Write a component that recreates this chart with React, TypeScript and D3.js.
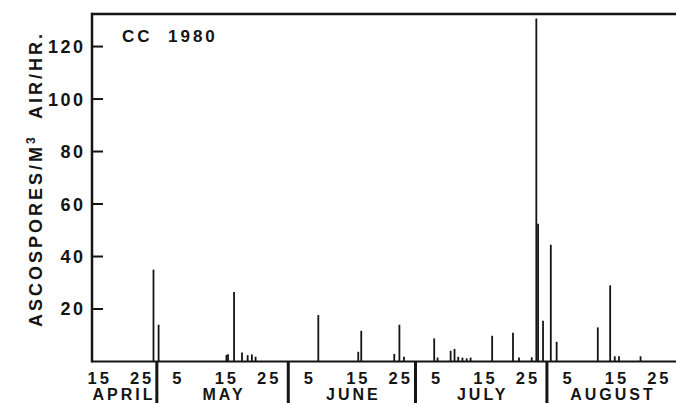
import React, { useRef, useEffect } from 'react';
import { select, scaleUtc, scaleLinear, utcParse } from 'd3';

const width = 676;
const height = 403;

const parseHour = utcParse('%Y-%m-%dT%H');
const parseDay = utcParse('%Y-%m-%d');

// sampling times and ascospore counts (per m3 air per hour)
const sampleTimes = [
    '1980-04-30T05', '1980-05-01T10', '1980-05-17T10', '1980-05-17T19', '1980-05-19T05',
    '1980-05-21T02', '1980-05-22T10', '1980-05-23T10', '1980-05-24T07', '1980-06-08T02',
    '1980-06-17T12', '1980-06-18T05', '1980-06-26T00', '1980-06-27T05', '1980-06-28T07',
    '1980-07-05T10', '1980-07-06T05', '1980-07-09T07', '1980-07-10T05', '1980-07-11T02',
    '1980-07-12T02', '1980-07-13T02', '1980-07-14T00', '1980-07-19T02', '1980-07-24T00',
    '1980-07-25T10', '1980-07-28T10', '1980-07-29T12', '1980-07-29T22', '1980-07-31T02',
    '1980-08-01T22', '1980-08-03T07', '1980-08-13T00', '1980-08-15T22', '1980-08-17T00',
    '1980-08-18T00', '1980-08-23T02'
];
const ascospores = [
    35, 14, 2.5, 2.8, 26.5,
    3.4, 2.4, 2.7, 1.8, 17.7,
    3.7, 11.7, 2.9, 14, 1.8,
    8.8, 1.5, 4.1, 4.8, 1.8,
    1.5, 1.2, 1.5, 9.8, 11,
    1.5, 1.6, 130.7, 52.5, 15.5,
    44.5, 7.5, 13, 29, 2,
    2, 2
];

const yTicks = [20, 40, 60, 80, 100, 120];
const xTickDates = [
    '1980-04-15', '1980-04-25',
    '1980-05-05', '1980-05-15', '1980-05-25',
    '1980-06-05', '1980-06-15', '1980-06-25',
    '1980-07-05', '1980-07-15', '1980-07-25',
    '1980-08-05', '1980-08-15', '1980-08-25'
];
const monthNames = ['APRIL', 'MAY', 'JUNE', 'JULY', 'AUGUST'];
const monthStarts = ['1980-04-01', '1980-05-01', '1980-06-01', '1980-07-01', '1980-08-01', '1980-09-01'];

const left = 92;
const top = 14;
const baseline = 361.5;
const right = 676;

const x = scaleUtc()
    .domain([parseDay('1980-04-14'), parseDay('1980-09-01')])
    .range([84.76, 678.36]);

const y = scaleLinear()
    .domain([0, 132.4])
    .range([baseline, top]);

const ink = '#141414';
const font = '"Liberation Sans", Arial, Helvetica, sans-serif';

export default function App() {

    const svgRef = useRef();

    useEffect(() => {
        const svg = select(svgRef.current);
        svg.selectAll('*').remove();

        svg.append('rect')
            .attr('width', width)
            .attr('height', height)
            .attr('fill', '#fff');

        // frame: top, left axis
        svg.append('line')
            .attr('x1', left).attr('x2', right)
            .attr('y1', top).attr('y2', top)
            .attr('stroke', ink).attr('stroke-width', 2.5);
        svg.append('line')
            .attr('x1', left).attr('x2', left)
            .attr('y1', top - 1.2).attr('y2', baseline + 1)
            .attr('stroke', ink).attr('stroke-width', 2.5);

        // bars
        svg.selectAll('.bar')
            .data(sampleTimes.map((t, i) => ({ t: parseHour(t), v: ascospores[i] })))
            .enter()
            .append('line')
            .attr('class', 'bar')
            .attr('x1', d => x(d.t))
            .attr('x2', d => x(d.t))
            .attr('y1', baseline)
            .attr('y2', d => y(d.v))
            .attr('stroke', ink)
            .attr('stroke-width', 1.8);

        svg.append('line')
            .attr('x1', left).attr('x2', right)
            .attr('y1', baseline).attr('y2', baseline)
            .attr('stroke', ink).attr('stroke-width', 2.2);

        // y ticks
        const yt = svg.selectAll('.ytick')
            .data(yTicks)
            .enter()
            .append('g')
            .attr('class', 'ytick')
            .attr('transform', d => 'translate(0,' + y(d) + ')');
        yt.append('line')
            .attr('x1', left).attr('x2', left + 11)
            .attr('stroke', ink).attr('stroke-width', 2);
        yt.append('text')
            .attr('x', 85.5)
            .attr('dy', '0.36em')
            .attr('text-anchor', 'end')
            .attr('font-family', font)
            .attr('font-weight', 'bold')
            .attr('font-size', 18)
            .attr('letter-spacing', 2.5)
            .attr('fill', ink)
            .text(d => d);

        // x tick labels (day of month)
        svg.selectAll('.xlabel')
            .data(xTickDates.map(parseDay))
            .enter()
            .append('text')
            .attr('class', 'xlabel')
            .attr('x', d => x(d) - 1.5)
            .attr('y', 383.5)
            .attr('font-family', font)
            .attr('font-weight', 'bold')
            .attr('font-size', 16.5)
            .attr('letter-spacing', 3)
            .attr('fill', ink)
            .text(d => d.getUTCDate());

        // month separators
        svg.selectAll('.sep')
            .data(monthStarts.slice(1, 5).map(parseDay))
            .enter()
            .append('line')
            .attr('class', 'sep')
            .attr('x1', d => x(d)).attr('x2', d => x(d))
            .attr('y1', baseline).attr('y2', height)
            .attr('stroke', ink).attr('stroke-width', 3);

        // month names
        svg.selectAll('.month')
            .data(monthNames.map((m, i) => {
                const a = Math.max(x(parseDay(monthStarts[i])), 88);
                const b = Math.min(x(parseDay(monthStarts[i + 1])), right);
                return { m, cx: (a + b) / 2 };
            }))
            .enter()
            .append('text')
            .attr('class', 'month')
            .attr('x', d => d.cx + 1.5)
            .attr('y', 400)
            .attr('text-anchor', 'middle')
            .attr('font-family', font)
            .attr('font-weight', 'bold')
            .attr('font-size', 16)
            .attr('letter-spacing', 3)
            .attr('fill', ink)
            .text(d => d.m);

        // panel label
        svg.append('text')
            .attr('x', 122)
            .attr('y', 41.5)
            .attr('font-family', font)
            .attr('font-weight', 'bold')
            .attr('font-size', 17)
            .attr('letter-spacing', 3)
            .attr('fill', ink)
            .style('white-space', 'pre')
            .text('CC  1980');

        // y axis title
        const title = svg.append('text')
            .attr('transform', 'translate(41.5,179) rotate(-90)')
            .attr('text-anchor', 'middle')
            .attr('font-family', font)
            .attr('font-weight', 'bold')
            .attr('font-size', 18)
            .attr('letter-spacing', 3)
            .attr('fill', ink)
            .style('white-space', 'pre');
        title.append('tspan').text('ASCOSPORES/M');
        title.append('tspan').attr('dy', -7).attr('font-size', 12).text('3');
        title.append('tspan').attr('dy', 7).text('  AIR/HR.');
    }, []);

    return (<>
        <svg width={width} height={height} ref={svgRef}
            style={{ position: 'absolute', left: 0, top: 0 }}></svg>
    </>);
};
